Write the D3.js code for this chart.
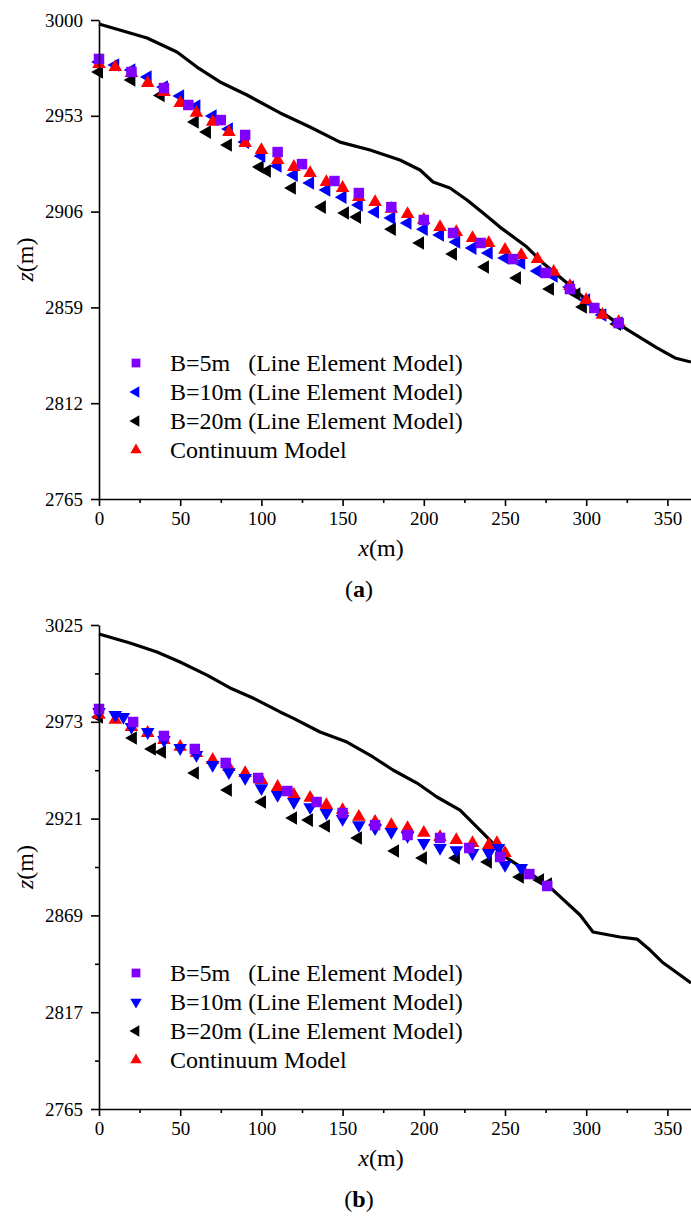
<!DOCTYPE html>
<html>
<head>
<meta charset="utf-8">
<script src="https://cdn.jsdelivr.net/npm/d3@7"></script>
<style>
  body { margin: 0; background: #fff; }
  svg text { font-family: "Liberation Serif", "Times New Roman", serif !important; fill: #000; }
</style>
</head>
<body>
<svg id="fig" width="691" height="1216"></svg>
<script>
// x ticks shared by both panels
const xTicks = [0, 50, 100, 150, 200, 250, 300, 350];
const xMinorTicks = [25, 75, 125, 175, 225, 275, 325];

// panel (a)
const zTicksA = [2765, 2812, 2859, 2906, 2953, 3000];
const terrainA = [[0, 2998.0], [19.1, 2993.6], [29.6, 2991.2], [48.0, 2984.3], [60.3, 2976.9], [74.5, 2969.6],
  [91.1, 2963.2], [111.5, 2954.4], [129.9, 2947.5], [148.4, 2940.1], [166.9, 2936.2], [185.3, 2931.3],
  [197.7, 2926.4], [205.7, 2920.5], [216.1, 2917.6], [226.6, 2911.7], [236.5, 2905.3], [246.9, 2898.4],
  [263.5, 2888.6], [273.4, 2880.8], [288.2, 2871.0], [302.3, 2861.1], [319.0, 2851.3], [328.8, 2846.4],
  [343.6, 2839.1], [354.7, 2834.2], [364.5, 2832.2]];
const b5A = [[0, 2980.9], [20, 2974.5], [40, 2966.6], [55, 2958.3], [75, 2950.9], [90, 2943.6], [110, 2935.2],
  [125, 2929.3], [145, 2921.0], [160, 2915.1], [180, 2908.2], [200, 2901.9], [218, 2895.5], [235, 2890.6],
  [255, 2882.7], [275, 2875.9], [290, 2868.0], [305, 2858.7], [320, 2851.3]];
const b10A = [[0, 2979.4], [10, 2977.9], [20, 2975.5], [30, 2972.0], [40, 2967.1], [50, 2962.7], [60, 2957.8],
  [70, 2952.9], [80, 2946.5], [90, 2940.1], [100, 2933.3], [110, 2928.4], [120, 2923.9], [130, 2920.0],
  [140, 2916.6], [150, 2913.1], [160, 2909.2], [170, 2905.8], [180, 2902.8], [190, 2900.4], [200, 2897.4],
  [210, 2894.5], [220, 2891.1], [230, 2888.1], [240, 2885.7], [250, 2883.2], [260, 2880.8], [270, 2876.8],
  [280, 2874.4], [290, 2869.0], [300, 2862.6], [310, 2855.3], [320, 2851.3]];
const b20A = [[0, 2974.5], [20, 2970.6], [38, 2963.0], [59, 2950.0], [66.5, 2945.0], [79.4, 2938.7],
  [99, 2927.9], [103.4, 2925.9], [118.8, 2917.6], [137.3, 2908.2], [151.5, 2905.3], [158.9, 2903.3],
  [180.4, 2897.4], [197.7, 2890.6], [218, 2885.2], [237.7, 2878.8], [257.4, 2873.4], [277.7, 2868.0],
  [294, 2865.5], [298, 2859.2], [319, 2850.8]];
const contA = [[0, 2978.4], [10, 2976.9], [20, 2974.0], [30, 2969.1], [40, 2964.7], [50, 2959.3], [60, 2954.4],
  [70, 2950.0], [80, 2945.0], [90, 2939.6], [100, 2936.2], [110, 2931.3], [120, 2927.9], [130, 2924.9],
  [140, 2920.5], [150, 2917.6], [160, 2913.1], [170, 2910.7], [180, 2907.3], [190, 2904.8], [200, 2901.9],
  [210, 2898.4], [220, 2896.0], [230, 2893.0], [240, 2890.6], [250, 2887.2], [260, 2884.7], [270, 2882.7],
  [280, 2876.4], [290, 2869.5], [300, 2862.6], [310, 2855.3], [320, 2851.8]];

// panel (b)
const zTicksB = [2765, 2817, 2869, 2921, 2973, 3025];
const zMinorB = [2791, 2843, 2895, 2947, 2999];
const terrainB = [[0, 3020.2], [19.1, 3015.3], [35.7, 3010.5], [49.9, 3005.1], [66.5, 2998.1], [80.7, 2991.2],
  [94.8, 2985.8], [111.5, 2978.3], [119.5, 2975.0], [136.1, 2967.5], [152.7, 2962.1], [168.7, 2954.1],
  [181, 2947.1], [195.8, 2940.1], [208.1, 2932.6], [222.3, 2925.6], [238.9, 2911.1], [251.2, 2899.8],
  [265.4, 2891.8], [279.6, 2882.6], [296.2, 2869.2], [304.2, 2860.1], [320.8, 2857.4], [331.3, 2856.3],
  [339.3, 2850.4], [346.7, 2844.0], [357.8, 2837.0], [364.5, 2832.7]];
const b5B = [[0, 2979.9], [21, 2972.9], [40, 2965.4], [59, 2958.4], [78, 2950.9], [98, 2942.8], [116, 2935.8],
  [134, 2929.9], [150, 2924.0], [170, 2917.5], [190, 2912.2], [210, 2910.6], [228, 2905.2], [247, 2900.4],
  [265, 2891.2], [276, 2884.8]];
const b10B = [[0, 2978.3], [10, 2976.7], [15, 2975.6], [20, 2970.2], [30, 2967.5], [40, 2963.2], [50, 2958.9],
  [60, 2955.2], [70, 2949.8], [80, 2946.0], [90, 2942.8], [100, 2937.4], [110, 2933.7], [120, 2929.9],
  [130, 2927.2], [140, 2924.0], [150, 2920.8], [160, 2917.5], [170, 2915.9], [180, 2913.8], [190, 2911.7],
  [200, 2907.9], [210, 2905.2], [220, 2904.1], [230, 2902.5], [240, 2902.5], [246, 2905.2], [250, 2896.1],
  [260, 2894.5]];
const b20B = [[0, 2975.6], [20.9, 2964.3], [32.6, 2958.4], [38.8, 2956.8], [59.1, 2945.5], [79.4, 2936.4],
  [100.4, 2929.9], [119.5, 2921.3], [129.3, 2920.2], [139.8, 2917.0], [159.5, 2910.6], [182.3, 2903.6],
  [199.5, 2899.8], [219.8, 2899.8], [239.5, 2897.7], [259.2, 2889.6], [271.6, 2888.0], [276.5, 2885.9]];
const contB = [[0, 2976.7], [10, 2974.0], [20, 2970.2], [30, 2967.0], [40, 2963.2], [50, 2959.5], [60, 2956.2],
  [70, 2952.5], [80, 2948.7], [90, 2945.5], [100, 2941.7], [110, 2938.0], [120, 2933.7], [130, 2932.1],
  [140, 2928.3], [150, 2925.6], [160, 2921.9], [170, 2919.2], [180, 2917.5], [190, 2915.9], [200, 2913.3],
  [210, 2911.1], [220, 2909.5], [230, 2907.9], [240, 2906.8], [245, 2907.9], [250, 2902.5]];

const labels = ["B=5m\u00a0\u00a0\u00a0(Line Element Model)", "B=10m (Line Element Model)",
  "B=20m (Line Element Model)", "Continuum Model"];
const legendColors = ["#7f00ff", "#0000ff", "#000000", "#ff0000"];

const svg = d3.select("#fig");
svg.append("rect").attr("width", 691).attr("height", 1216).attr("fill", "#fff");

const x = d3.scaleLinear().domain([0, 370]).range([99, 99 + 370 * 1.624]);

// marker shapes: kind -> [symbol type, rotation, size]
const shapes = {
  square: [d3.symbolSquare, 0, 110],
  left: [d3.symbolTriangle, -90, 80],
  down: [d3.symbolTriangle, 180, 80],
  up: [d3.symbolTriangle, 0, 80]
};

const panels = [
  { top: 20, bottom: 499, domain: [2765, 3000], ticks: zTicksA, minor: [], terrain: terrainA, caption: "a",
    legendShapes: ["square", "left", "left", "up"],
    series: [
      { data: b20A, color: "#000000", shape: "left" },
      { data: b10A, color: "#0000ff", shape: "left" },
      { data: contA, color: "#ff0000", shape: "up" },
      { data: b5A, color: "#7f00ff", shape: "square" }
    ] },
  { top: 625, bottom: 1109, domain: [2765, 3025], ticks: zTicksB, minor: zMinorB, terrain: terrainB, caption: "b",
    legendShapes: ["square", "down", "left", "up"],
    series: [
      { data: b20B, color: "#000000", shape: "left" },
      { data: contB, color: "#ff0000", shape: "up" },
      { data: b10B, color: "#0000ff", shape: "down" },
      { data: b5B, color: "#7f00ff", shape: "square" }
    ] }
];

panels.forEach(p => {
  const y = d3.scaleLinear().domain(p.domain).range([p.bottom, p.top]);
  const g = svg.append("g");

  // terrain surface
  g.append("path")
    .datum(p.terrain)
    .attr("fill", "none")
    .attr("stroke", "#000")
    .attr("stroke-width", 3.2)
    .attr("stroke-linejoin", "round")
    .attr("d", d3.line().x(d => x(d[0])).y(d => y(d[1])));

  // markers
  p.series.forEach(s => {
    const sh = shapes[s.shape];
    g.append("g").selectAll("path")
      .data(s.data)
      .enter()
      .append("path")
      .attr("d", d3.symbol().type(sh[0]).size(sh[2]))
      .attr("transform", d => `translate(${x(d[0])},${y(d[1])}) rotate(${sh[1]})`)
      .attr("fill", s.color);
  });

  // axes
  const xAxis = g.append("g")
    .attr("transform", `translate(0,${p.bottom})`)
    .call(d3.axisBottom(x).tickValues(xTicks).tickSize(7).tickSizeOuter(0).tickPadding(6).tickFormat(d3.format("d")));
  g.append("g")
    .attr("transform", `translate(0,${p.bottom})`)
    .call(d3.axisBottom(x).tickValues(xMinorTicks).tickSize(4).tickFormat(""))
    .call(a => a.select(".domain").remove());
  const yAxis = g.append("g")
    .attr("transform", `translate(99,0)`)
    .call(d3.axisLeft(y).tickValues(p.ticks).tickSize(8).tickSizeOuter(0).tickPadding(8).tickFormat(d3.format("d")));
  if (p.minor.length) {
    g.append("g")
      .attr("transform", `translate(99,0)`)
      .call(d3.axisLeft(y).tickValues(p.minor).tickSize(4).tickFormat(""))
      .call(a => a.select(".domain").remove());
  }
  g.selectAll(".domain, .tick line").attr("stroke", "#000").attr("stroke-width", 1.6);
  g.selectAll("g").attr("font-family", null);
  xAxis.selectAll("text").attr("font-size", 19);
  yAxis.selectAll("text").attr("font-size", 19);

  // axis titles
  const xt = g.append("text")
    .attr("x", 381).attr("y", p.bottom + 57)
    .attr("text-anchor", "middle").attr("font-size", 24);
  xt.append("tspan").attr("font-style", "italic").text("x");
  xt.append("tspan").text("(m)");

  const zt = g.append("text")
    .attr("transform", `translate(33,${(p.top + p.bottom) / 2}) rotate(-90)`)
    .attr("text-anchor", "middle").attr("font-size", 24);
  zt.append("tspan").attr("font-style", "italic").text("z");
  zt.append("tspan").text("(m)");

  // caption
  const cap = g.append("text")
    .attr("x", 359).attr("y", p.bottom + 98)
    .attr("text-anchor", "middle").attr("font-size", 24);
  cap.append("tspan").text("(");
  cap.append("tspan").attr("font-weight", "bold").text(p.caption);
  cap.append("tspan").text(")");

  // legend
  const legendTop = p.bottom - 136;
  labels.forEach((lab, i) => {
    const ly = legendTop + i * 29;
    const sh = shapes[p.legendShapes[i]];
    g.append("path")
      .attr("d", d3.symbol().type(sh[0]).size(sh[2] * 0.7))
      .attr("transform", `translate(136,${ly}) rotate(${sh[1]})`)
      .attr("fill", legendColors[i]);
    g.append("text")
      .attr("x", 170).attr("y", ly).attr("dy", "0.35em")
      .attr("font-size", 24)
      .text(lab);
  });
});
</script>
</body>
</html>
